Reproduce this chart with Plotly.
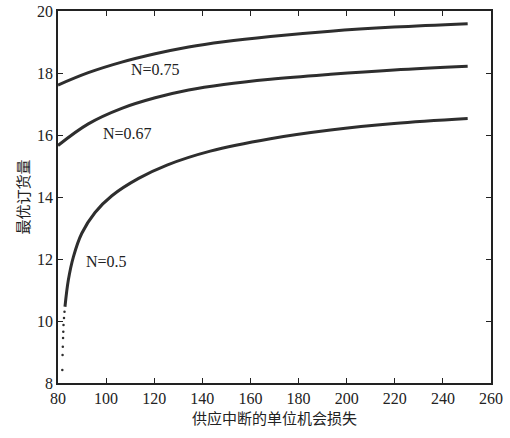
import plotly.graph_objects as go

# Data
x_common = [80, 92.6, 106.5, 120.4, 134.3, 148.9, 168.3, 193.3, 219.7, 250.3]
y_n075 = [17.61, 18.01, 18.35, 18.62, 18.84, 19.01, 19.18, 19.35, 19.48, 19.59]
y_n067 = [15.66, 16.36, 16.86, 17.20, 17.45, 17.63, 17.80, 17.96, 18.10, 18.22]

x_n05 = [82.9, 84.3, 86.4, 89.9, 95.4, 102.4, 113.5, 125.3, 143.3, 168.3, 193.3, 219.7, 250.3]
y_n05 = [10.46, 11.32, 12.07, 12.83, 13.50, 14.04, 14.6, 15.03, 15.48, 15.88, 16.16, 16.37, 16.53]

x_n05_dots = [81.8, 81.9, 82.0, 82.1, 82.2, 82.3, 82.5, 82.7]
y_n05_dots = [8.42, 8.9, 9.17, 9.45, 9.65, 9.87, 10.1, 10.3]

labels = ["N=0.75", "N=0.67", "N=0.5"]
label_x = [120.4, 109.0, 100.3]
label_y = [18.1, 16.05, 11.91]

x_ticks = [80, 100, 120, 140, 160, 180, 200, 220, 240, 260]
y_ticks = [8, 10, 12, 14, 16, 18, 20]

line_color = "#2e2e2e"
serif = "Liberation Serif, Times New Roman, serif"
cjk = "Noto Sans CJK SC, sans-serif"

fig = go.Figure()
for ys in (y_n075, y_n067):
    fig.add_trace(go.Scatter(x=x_common, y=ys, mode="lines",
                             line=dict(color=line_color, width=3, shape="spline", smoothing=1.1),
                             showlegend=False, hoverinfo="skip"))
fig.add_trace(go.Scatter(x=x_n05, y=y_n05, mode="lines",
                         line=dict(color=line_color, width=3, shape="spline", smoothing=1.0),
                         showlegend=False, hoverinfo="skip"))
fig.add_trace(go.Scatter(x=x_n05_dots, y=y_n05_dots, mode="markers",
                         marker=dict(color=line_color, size=2.5),
                         showlegend=False, hoverinfo="skip"))

for t, lx, ly in zip(labels, label_x, label_y):
    fig.add_annotation(x=lx, y=ly, text=t, showarrow=False,
                       font=dict(family=serif, size=16, color="#222"))

axis_common = dict(showgrid=False, zeroline=False, showline=True, mirror="ticks",
                   linecolor="#222", linewidth=1.5, ticks="inside", ticklen=5,
                   tickcolor="#222", tickwidth=1, automargin=False,
                   tickfont=dict(family=serif, size=16, color="#222"))

fig.update_xaxes(range=[80, 260], tickvals=x_ticks, **axis_common,
                 title=dict(text="供应中断的单位机会损失",
                            font=dict(family=cjk, size=15, color="#222"), standoff=4))
fig.update_yaxes(range=[8, 20], tickvals=y_ticks, **axis_common,
                 title=dict(text="最优订货量",
                            font=dict(family=cjk, size=15, color="#222"), standoff=4))

fig.update_layout(width=510, height=438,
                  margin=dict(l=58, r=19, t=11, b=55),
                  paper_bgcolor="white", plot_bgcolor="white")

fig.write_html("out.html", config={"displayModeBar": False},
               post_script="document.body.style.margin='0';document.body.style.overflow='hidden';")
